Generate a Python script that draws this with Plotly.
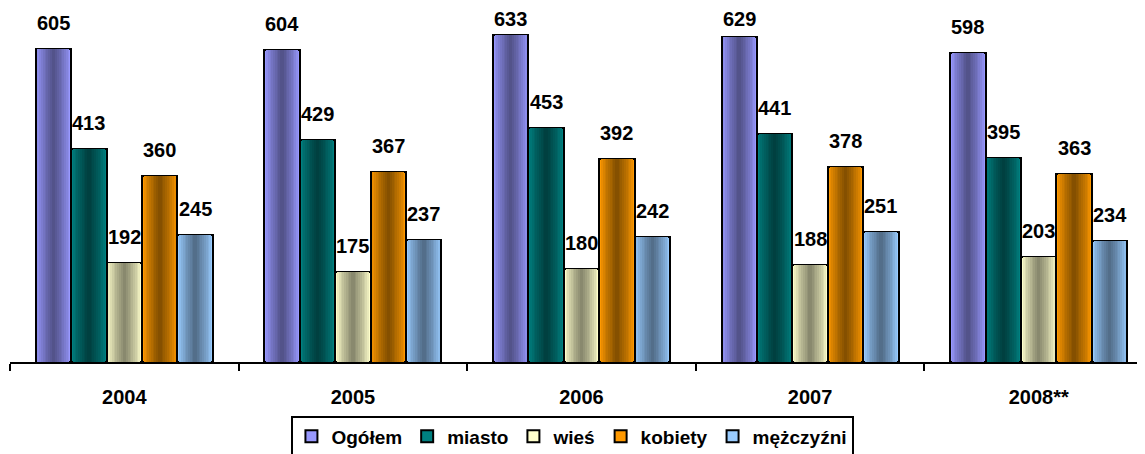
import plotly.graph_objects as go

years = ["2004", "2005", "2006", "2007", "2008**"]
series_names = ["Ogółem", "miasto", "wieś", "kobiety", "mężczyźni"]
ogolem = [605, 604, 633, 629, 598]
miasto = [413, 429, 453, 441, 395]
wies = [192, 175, 180, 188, 203]
kobiety = [360, 367, 392, 378, 363]
mezczyzni = [245, 237, 242, 251, 234]
all_values = [ogolem, miasto, wies, kobiety, mezczyzni]

edge_colors = ["#9999FF", "#008080", "#FFFFCC", "#FF9900", "#99CCFF"]
center_colors = ["#4D4D80", "#003A3A", "#7F7F66", "#7A4A00", "#4D6680"]

FONT = "Arial, Liberation Sans, sans-serif"
bar_w = 0.155
n_series = len(series_names)
group_left = -bar_w * n_series / 2
n_layers = 10
label_cap = 613  # labels are kept inside the chart area (as in the original)
xidx = list(range(len(years)))


def hex2rgb(h):
    h = h.lstrip("#")
    return tuple(int(h[i:i + 2], 16) for i in (0, 2, 4))


def mix(c1, c2, t):
    a, b = hex2rgb(c1), hex2rgb(c2)
    return "rgb(%d,%d,%d)" % tuple(round(a[i] + (b[i] - a[i]) * t) for i in range(3))


fig = go.Figure()
for s, (name, vals) in enumerate(zip(series_names, all_values)):
    left = group_left + s * bar_w
    for k in range(n_layers):
        frac = k / n_layers
        wk = bar_w * (1 - frac)
        col = mix(edge_colors[s], center_colors[s], frac ** 0.8)
        fig.add_trace(go.Bar(
            x=xidx, y=vals, name=name,
            width=wk, offset=left + (bar_w - wk) / 2,
            marker=dict(color=col,
                        line=dict(color="black", width=2 if k == 0 else 0)),
            showlegend=(k == 0), legendgroup=name, hoverinfo="skip",
        ))
    for i, v in enumerate(vals):
        fig.add_annotation(
            x=i + left + bar_w / 2, y=min(v, label_cap), text="<b>%d</b>" % v,
            showarrow=False, yanchor="bottom", yshift=13,
            font=dict(family=FONT, size=20, color="black"),
        )

fig.update_layout(
    barmode="overlay",
    width=1145, height=454,
    margin=dict(l=2, r=0, t=0, b=100, autoexpand=False),
    paper_bgcolor="white", plot_bgcolor="white",
    font=dict(family=FONT, size=20, color="black"),
    xaxis=dict(
        tickmode="array", tickvals=xidx,
        ticktext=["<b>%s</b>" % y for y in years],
        range=[-0.5, 4.5], showgrid=False, zeroline=False,
        showline=True, linecolor="black", linewidth=2,
        ticks="", automargin=False,
        tickfont=dict(family=FONT, size=20, color="black"),
        minor=dict(tickmode="array", tickvals=[-0.5, 0.5, 1.5, 2.5, 3.5, 4.5],
                   ticks="outside", ticklen=7, tickwidth=2, tickcolor="black"),
        ticklabelstandoff=16,
    ),
    yaxis=dict(range=[0, 685], visible=False, automargin=False),
    legend=dict(
        orientation="h", x=0.4925, xanchor="center", y=-0.2105, yanchor="middle",
        bordercolor="black", borderwidth=2,
        font=dict(family=FONT, size=19, color="black", weight="bold"),
        itemwidth=30, tracegroupgap=0,
    ),
    bargap=0,
)

fig.write_html("out.html")
